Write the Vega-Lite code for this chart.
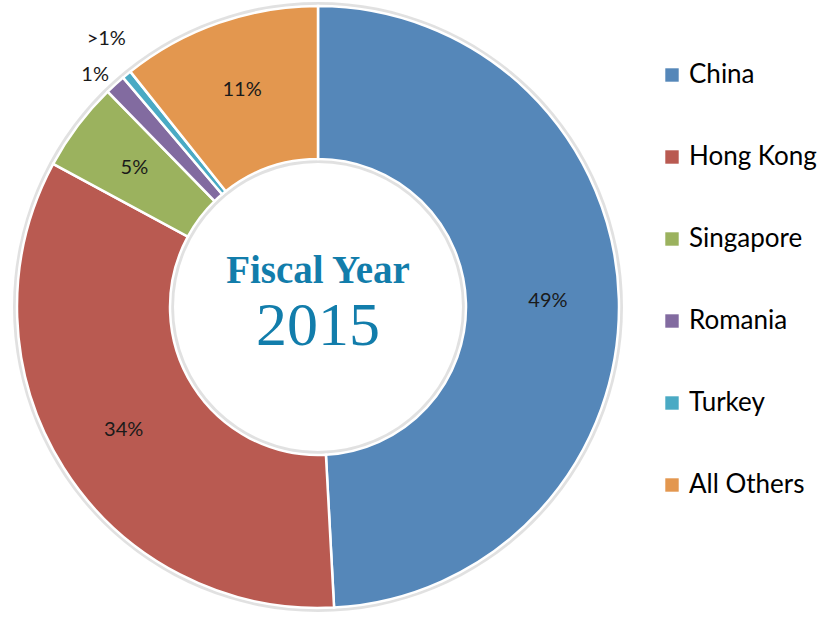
{
  "$schema": "https://vega.github.io/schema/vega-lite/v6.json",
  "width": 636,
  "height": 614,
  "autosize": {"type": "none"},
  "padding": {"left": 0, "top": 0, "right": 193, "bottom": 21},
  "background": "white",
  "config": {"view": {"stroke": null}},
  "data": {
    "values": [
      {"idx": 1, "country": "China", "share": 49.1, "label": "49%"},
      {"idx": 2, "country": "Hong Kong", "share": 33.7, "label": "34%"},
      {"idx": 3, "country": "Singapore", "share": 4.8, "label": "5%"},
      {"idx": 4, "country": "Romania", "share": 1.1, "label": "1%"},
      {"idx": 5, "country": "Turkey", "share": 0.5, "label": ">1%"},
      {"idx": 6, "country": "All Others", "share": 10.7, "label": "11%"}
    ]
  },
  "encoding": {
    "theta": {"field": "share", "type": "quantitative", "stack": true},
    "order": {"field": "idx", "type": "quantitative"}
  },
  "layer": [
    {
      "data": {"values": [{"ring": "shadow"}]},
      "mark": {"type": "arc", "outerRadius": 305, "innerRadius": 144, "fill": "#9a9a9a", "opacity": 0.3},
      "encoding": {"theta": null, "order": null}
    },
    {
      "mark": {"type": "arc", "outerRadius": 301, "innerRadius": 148, "stroke": "white", "strokeWidth": 2.5},
      "encoding": {
        "color": {
          "field": "country", "type": "nominal",
          "scale": {
            "domain": ["China", "Hong Kong", "Singapore", "Romania", "Turkey", "All Others"],
            "range": ["#5587b9", "#b95a51", "#9bb25e", "#826ba0", "#4aaac4", "#e3974f"]
          },
          "legend": {
            "title": null,
            "orient": "none",
            "legendX": 659,
            "legendY": 62,
            "symbolType": "square",
            "symbolSize": 180,
            "symbolStrokeWidth": 0,
            "labelFont": "Lato",
            "labelFontSize": 26,
            "labelColor": "black",
            "labelOffset": 4,
            "rowPadding": 56
          }
        }
      }
    },
    {
      "mark": {"type": "text", "radius": 230, "font": "Lato", "fontSize": 20, "color": "#1a1a1a"},
      "encoding": {"text": {"condition": {"test": "datum.idx != 4 && datum.idx != 5", "field": "label"}, "value": ""}}
    },
    {
      "mark": {"type": "text", "radius": 322, "dx": -6, "dy": 6, "font": "Lato", "fontSize": 20, "color": "#1a1a1a"},
      "encoding": {"text": {"condition": {"test": "datum.idx == 4", "field": "label"}, "value": ""}}
    },
    {
      "mark": {"type": "text", "radius": 341, "dx": 5, "dy": -5, "font": "Lato", "fontSize": 20, "color": "#1a1a1a"},
      "encoding": {"text": {"condition": {"test": "datum.idx == 5", "field": "label"}, "value": ""}}
    },
    {
      "data": {"values": [{"line": "Fiscal Year"}]},
      "mark": {"type": "text", "x": {"expr": "width/2"}, "y": {"expr": "height/2"}, "dy": -24, "baseline": "alphabetic", "font": "Liberation Serif", "fontWeight": "bold", "fontSize": 39, "color": "#127dab"},
      "encoding": {"text": {"field": "line"}, "theta": null, "order": null}
    },
    {
      "data": {"values": [{"line": "2015"}]},
      "mark": {"type": "text", "x": {"expr": "width/2"}, "y": {"expr": "height/2"}, "dy": 38, "baseline": "alphabetic", "font": "Liberation Serif", "fontSize": 62, "color": "#127dab"},
      "encoding": {"text": {"field": "line"}, "theta": null, "order": null}
    }
  ]
}
